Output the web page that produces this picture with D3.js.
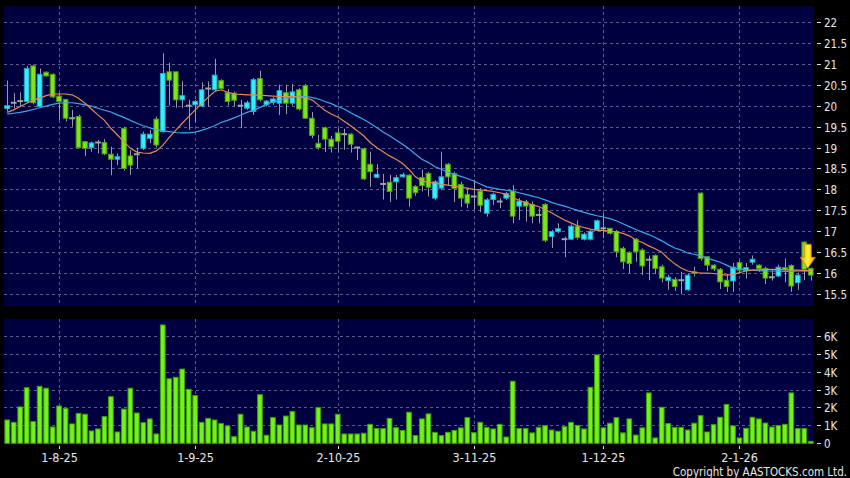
<!DOCTYPE html>
<html>
<head>
<meta charset="utf-8">
<script src="https://cdn.jsdelivr.net/npm/d3@7"></script>
<style>
  body { margin: 0; background: #000; }
  svg { display: block; }
  text { font-family: "DejaVu Sans Condensed", "DejaVu Sans", sans-serif; fill: #e6e6e6; }
</style>
</head>
<body>
<div id="chart"></div>
<script>
// daily OHLC (HKD)
var opens = [19.93, 20.07, 20.11, 20.10, 20.95, 19.98, 20.80, 20.75, 20.23, 20.15,
  19.70, 19.74, 19.14, 19.00, 19.12, 19.12, 18.84, 18.72, 19.46, 18.80,
  18.84, 18.98, 19.22, 19.68, 19.38, 20.81, 20.81, 20.14, 20.00, 20.02,
  19.99, 20.41, 20.38, 20.60, 20.31, 20.30, 20.00, 19.94, 19.86, 20.65,
  20.02, 20.08, 20.06, 20.31, 20.06, 20.38, 20.48, 19.70, 19.10, 19.47,
  19.20, 19.35, 19.32, 19.32, 19.00, 18.97, 18.60, 18.29, 18.13, 18.17,
  18.18, 18.30, 18.34, 18.07, 18.28, 18.38, 17.79, 18.03, 18.60, 18.38,
  18.12, 17.88, 17.83, 17.96, 17.43, 17.76, 17.71, 17.79, 17.96, 17.60,
  17.71, 17.64, 17.39, 17.64, 16.87, 16.99, 16.81, 16.81, 17.12, 16.81,
  16.81, 17.03, 17.07, 17.07, 16.99, 16.59, 16.49, 16.81, 16.55, 16.32,
  16.42, 16.15, 15.82, 15.85, 15.83, 15.60, 16.03, 17.91, 16.39, 16.19,
  16.09, 15.83, 15.81, 16.25, 16.06, 16.26, 16.19, 16.11, 15.90, 15.93,
  16.13, 16.18, 15.77, 16.74, 16.11];
var highs = [20.60, 20.30, 20.32, 20.95, 20.98, 20.89, 20.82, 20.77, 20.30, 20.15,
  19.90, 19.78, 19.16, 19.14, 19.18, 19.20, 19.02, 18.86, 19.50, 18.94,
  19.00, 19.38, 19.42, 19.74, 21.25, 21.03, 20.82, 20.58, 20.14, 20.14,
  20.56, 20.58, 21.12, 20.63, 20.40, 20.34, 20.14, 20.12, 20.66, 20.84,
  20.13, 20.20, 20.50, 20.50, 20.52, 20.42, 20.52, 19.85, 19.30, 19.50,
  19.28, 19.45, 19.45, 19.34, 19.02, 19.00, 18.90, 18.60, 18.37, 18.35,
  18.35, 18.40, 18.36, 18.10, 18.47, 18.42, 18.22, 18.90, 18.63, 18.42,
  18.18, 18.03, 18.23, 18.03, 17.79, 17.92, 17.79, 17.94, 18.10, 17.79,
  17.75, 17.71, 17.55, 17.67, 17.03, 17.19, 16.87, 17.16, 17.26, 16.97,
  17.03, 17.28, 17.43, 17.08, 17.03, 16.63, 16.52, 16.84, 16.59, 16.42,
  16.45, 16.20, 15.96, 15.90, 16.03, 15.98, 16.15, 17.93, 16.39, 16.21,
  16.12, 15.98, 16.24, 16.30, 16.24, 16.42, 16.21, 16.15, 16.08, 16.20,
  16.35, 16.21, 16.01, 16.76, 16.13];
var lows = [19.86, 19.94, 19.97, 20.06, 20.03, 19.94, 20.70, 20.18, 19.66, 19.62,
  19.50, 18.98, 18.80, 18.90, 18.86, 18.82, 18.34, 18.58, 18.45, 18.35,
  18.50, 18.94, 19.10, 19.00, 19.36, 20.00, 19.95, 19.94, 19.42, 19.60,
  19.96, 19.98, 20.35, 20.38, 20.00, 19.98, 19.46, 19.90, 19.78, 20.10,
  19.98, 20.02, 19.78, 19.80, 20.00, 19.88, 19.68, 19.22, 18.95, 18.89,
  18.88, 18.90, 18.95, 18.88, 18.70, 18.22, 18.06, 18.27, 17.76, 17.70,
  17.76, 18.28, 17.59, 17.85, 17.95, 17.83, 17.75, 17.98, 18.10, 17.70,
  17.58, 17.55, 17.51, 17.46, 17.35, 17.63, 17.55, 17.75, 17.19, 17.27,
  17.23, 17.19, 17.19, 16.74, 16.60, 16.95, 16.38, 16.79, 16.80, 16.78,
  16.78, 17.00, 16.83, 16.92, 16.38, 16.10, 16.00, 16.27, 15.95, 15.83,
  15.98, 15.78, 15.60, 15.58, 15.50, 15.58, 15.92, 16.30, 16.05, 16.05,
  15.62, 15.55, 15.55, 15.98, 15.87, 16.20, 16.03, 15.74, 15.82, 15.90,
  15.78, 15.55, 15.60, 15.83, 15.82];
var closes = [20.00, 20.07, 20.11, 20.89, 20.07, 20.75, 20.71, 20.21, 20.10, 19.70,
  19.70, 19.00, 18.98, 19.11, 19.12, 18.85, 18.72, 18.78, 18.50, 18.58,
  18.84, 19.32, 19.32, 19.06, 20.77, 20.61, 20.14, 20.24, 20.00, 20.10,
  20.38, 20.41, 20.73, 20.41, 20.10, 20.13, 20.00, 20.07, 20.62, 20.14,
  20.11, 20.16, 20.36, 20.06, 20.33, 19.92, 19.70, 19.29, 19.00, 19.20,
  19.02, 19.15, 19.32, 19.08, 19.00, 18.25, 18.42, 18.36, 18.13, 17.95,
  18.28, 18.35, 17.79, 17.92, 18.09, 18.05, 18.18, 18.30, 18.30, 18.02,
  17.79, 17.67, 17.83, 17.62, 17.75, 17.88, 17.71, 17.90, 17.36, 17.72,
  17.60, 17.36, 17.39, 16.78, 16.99, 17.06, 16.81, 17.12, 16.85, 16.93,
  17.00, 17.25, 17.07, 16.95, 16.51, 16.27, 16.23, 16.51, 16.17, 16.32,
  16.11, 15.88, 15.90, 15.68, 15.83, 15.95, 16.00, 16.35, 16.19, 16.10,
  15.79, 15.68, 16.14, 16.07, 16.13, 16.33, 16.11, 15.88, 15.90, 16.14,
  16.08, 15.69, 15.95, 16.09, 15.95];

// volume in thousands of shares
var volumes = [1.30, 1.17, 2.03, 3.10, 1.21, 3.18, 3.07, 0.91, 2.08, 1.95,
  1.08, 1.67, 1.62, 0.69, 0.80, 1.49, 2.60, 0.63, 1.91, 3.07,
  1.69, 1.15, 1.36, 0.52, 6.60, 3.60, 3.68, 4.14, 3.01, 2.66,
  1.17, 1.39, 1.30, 1.10, 0.97, 0.37, 1.62, 0.91, 0.67, 2.71,
  0.45, 1.43, 1.02, 1.52, 1.77, 1.02, 1.02, 0.87, 1.99, 1.08,
  1.08, 1.62, 0.52, 0.52, 0.52, 0.56, 1.06, 0.82, 0.82, 1.39,
  0.87, 0.72, 1.73, 0.43, 1.36, 1.64, 0.61, 0.43, 0.61, 0.72,
  0.86, 1.43, 0.59, 1.17, 0.89, 0.80, 1.06, 0.35, 3.46, 0.82,
  0.82, 0.58, 0.89, 0.99, 0.74, 0.67, 0.93, 1.17, 1.00, 0.80,
  3.12, 4.93, 0.86, 1.12, 1.43, 0.58, 1.36, 0.46, 0.86, 2.81,
  0.30, 2.01, 1.10, 0.89, 0.89, 0.74, 1.12, 1.54, 0.63, 1.04,
  1.45, 2.17, 0.97, 0.30, 0.84, 1.45, 1.36, 1.13, 0.91, 0.99,
  1.06, 2.81, 0.82, 0.82, 0.11];

// moving averages as drawn (short = orange, long = blue)
var maShort = [19.84, 19.90, 19.98, 20.06, 20.13, 20.18, 20.24, 20.28, 20.28, 20.28,
  20.26, 20.18, 20.06, 19.92, 19.78, 19.65, 19.46, 19.30, 19.14, 18.98,
  18.89, 18.87, 18.86, 18.92, 19.05, 19.24, 19.41, 19.58, 19.74, 19.90,
  20.05, 20.20, 20.34, 20.38, 20.32, 20.28, 20.27, 20.26, 20.26, 20.25,
  20.24, 20.23, 20.22, 20.22, 20.22, 20.21, 20.19, 20.14, 20.02, 19.89,
  19.80, 19.73, 19.63, 19.52, 19.40, 19.28, 19.12, 19.00, 18.90, 18.80,
  18.72, 18.62, 18.48, 18.30, 18.20, 18.17, 18.15, 18.12, 18.10, 18.08,
  18.05, 18.03, 18.00, 17.99, 17.97, 17.95, 17.92, 17.88, 17.80, 17.74,
  17.68, 17.63, 17.59, 17.52, 17.44, 17.35, 17.27, 17.20, 17.13, 17.09,
  17.05, 17.02, 17.02, 17.00, 16.99, 16.95, 16.89, 16.79, 16.73, 16.65,
  16.58, 16.50, 16.35, 16.22, 16.12, 16.05, 16.02, 16.00, 16.00, 15.99,
  15.97, 15.95, 15.97, 16.01, 16.05, 16.07, 16.08, 16.09, 16.09, 16.09,
  16.08, 16.07, 16.07, 16.06, 16.06];
var maLong = [19.80, 19.82, 19.84, 19.87, 19.91, 19.95, 19.99, 20.03, 20.06, 20.07,
  20.07, 20.05, 20.02, 19.99, 19.94, 19.89, 19.85, 19.78, 19.72, 19.65,
  19.58, 19.52, 19.47, 19.43, 19.40, 19.38, 19.36, 19.35, 19.35, 19.37,
  19.41, 19.46, 19.52, 19.60, 19.65, 19.71, 19.77, 19.84, 19.89, 19.96,
  20.03, 20.09, 20.12, 20.18, 20.20, 20.22, 20.22, 20.20, 20.16, 20.10,
  20.05, 19.98, 19.92, 19.83, 19.75, 19.67, 19.58, 19.48, 19.37, 19.28,
  19.18, 19.08, 18.97, 18.84, 18.72, 18.64, 18.54, 18.48, 18.41, 18.36,
  18.31, 18.26, 18.20, 18.13, 18.06, 18.03, 18.00, 17.98, 17.96, 17.92,
  17.88, 17.84, 17.80, 17.75, 17.69, 17.64, 17.60, 17.55, 17.50, 17.45,
  17.41, 17.37, 17.34, 17.30, 17.25, 17.18, 17.11, 17.04, 16.98, 16.92,
  16.85, 16.77, 16.68, 16.60, 16.55, 16.48, 16.45, 16.41, 16.36, 16.31,
  16.26, 16.19, 16.12, 16.10, 16.08, 16.07, 16.06, 16.05, 16.05, 16.05,
  16.04, 16.04, 16.05, 16.05, 16.05];

var priceTicks = [15.5, 16, 16.5, 17, 17.5, 18, 18.5, 19, 19.5, 20, 20.5, 21, 21.5, 22];
var volTicks = [0, 1, 2, 3, 4, 5, 6];
var dateTickIdx = [8, 29, 51, 72, 92, 113];
var dateTickLabels = ["1-8-25", "1-9-25", "2-10-25", "3-11-25", "1-12-25", "2-1-26"];

var width = 850, height = 478;
var left = 4, right = 814;
var pTop = 6, pBottom = 306, vTop = 319, vBottom = 444;

var svg = d3.select("#chart").append("svg")
    .attr("width", width)
    .attr("height", height);

svg.append("rect").attr("width", width).attr("height", height).attr("fill", "#000");

var n = closes.length;
var x = d3.scaleBand().domain(d3.range(n)).range([left, right]);
var xc = function(i) { return x(i) + x.bandwidth() / 2; };
var bw = x.bandwidth() * 0.88;

var y = d3.scaleLinear().domain([15.5, 22]).range([294, 22]);
var yv = d3.scaleLinear().domain([0, 6]).range([443.3, 335.7]);

// panels
svg.append("rect").attr("x", left).attr("y", pTop).attr("width", right - left).attr("height", pBottom - pTop).attr("fill", "#000040");
svg.append("rect").attr("x", left).attr("y", vTop).attr("width", right - left).attr("height", vBottom - vTop).attr("fill", "#000040");

var grid = svg.append("g")
    .attr("stroke", "#5c5c8c")
    .attr("stroke-width", 1)
    .attr("stroke-dasharray", "3,3");

grid.selectAll(".hp").data(priceTicks).enter().append("line")
    .attr("x1", left).attr("x2", right)
    .attr("y1", function(d) { return Math.round(y(d)) + 0.5; })
    .attr("y2", function(d) { return Math.round(y(d)) + 0.5; });

grid.selectAll(".hv").data(volTicks.slice(1)).enter().append("line")
    .attr("x1", left).attr("x2", right)
    .attr("y1", function(d) { return Math.round(yv(d)) + 0.5; })
    .attr("y2", function(d) { return Math.round(yv(d)) + 0.5; });

dateTickIdx.forEach(function(i) {
  var xx = Math.round(xc(i)) + 0.5;
  grid.append("line").attr("x1", xx).attr("x2", xx).attr("y1", pTop).attr("y2", pBottom);
  grid.append("line").attr("x1", xx).attr("x2", xx).attr("y1", vTop).attr("y2", vBottom);
});

// candles
var candles = svg.append("g");
d3.range(n).forEach(function(i) {
  var cx = xc(i);
  candles.append("line")
      .attr("x1", Math.round(cx) + 0.5).attr("x2", Math.round(cx) + 0.5)
      .attr("y1", y(highs[i])).attr("y2", y(lows[i]))
      .attr("stroke", "#9a9aa6").attr("stroke-width", 1);
  if (opens[i] === closes[i]) {
    candles.append("rect")
        .attr("x", cx - bw / 2).attr("y", y(closes[i]) - 1)
        .attr("width", bw).attr("height", 2)
        .attr("fill", "#9aa89a");
  } else {
    var up = closes[i] > opens[i];
    var top = y(Math.max(opens[i], closes[i]));
    var h = Math.max(1.5, y(Math.min(opens[i], closes[i])) - top);
    candles.append("rect")
        .attr("x", cx - bw / 2 + 0.5).attr("y", top)
        .attr("width", bw - 1).attr("height", h)
        .attr("fill", up ? "#33eeff" : "#7be61e")
        .attr("stroke", up ? "#2aa7c0" : "#4f9a12")
        .attr("stroke-width", 1);
  }
});

// moving averages
var line = function(vals) {
  return d3.line()
    .x(function(d, i) { return xc(i); })
    .y(function(d) { return y(d); })(vals);
};
svg.append("path").attr("d", line(maLong)).attr("fill", "none").attr("stroke", "#3fa6e6").attr("stroke-width", 1.2);
svg.append("path").attr("d", line(maShort)).attr("fill", "none").attr("stroke", "#e08a55").attr("stroke-width", 1.2);

// arrow marker on the latest session
var defs = svg.append("defs");
var grad = defs.append("linearGradient").attr("id", "arrowGrad").attr("x1", "0").attr("x2", "1").attr("y1", "0").attr("y2", "0");
grad.append("stop").attr("offset", "0%").attr("stop-color", "#f5a000");
grad.append("stop").attr("offset", "50%").attr("stop-color", "#fff23a");
grad.append("stop").attr("offset", "100%").attr("stop-color", "#f5a000");
var ax = xc(n - 2) + 3.5, ay = y(closes[n - 2]) - 1;
svg.append("path")
    .attr("d", "M" + (ax - 3.5) + "," + (ay - 24) + "H" + (ax + 3.5) + "V" + (ay - 11) +
               "H" + (ax + 7.5) + "L" + ax + "," + ay + "L" + (ax - 7.5) + "," + (ay - 11) +
               "H" + (ax - 3.5) + "Z")
    .attr("fill", "url(#arrowGrad)")
    .attr("stroke", "#c98000")
    .attr("stroke-width", 0.8);

// volume bars
svg.append("g").selectAll("rect").data(volumes).enter().append("rect")
    .attr("x", function(d, i) { return xc(i) - bw / 2 + 0.5; })
    .attr("y", function(d) { return yv(d); })
    .attr("width", bw - 1)
    .attr("height", function(d) { return yv(0) - yv(d); })
    .attr("fill", "#72f21c")
    .attr("stroke", "#3f9c05")
    .attr("stroke-width", 1);

// right axes
var ra = svg.append("g");
priceTicks.forEach(function(t) {
  var yy = Math.round(y(t)) + 0.5;
  ra.append("line").attr("x1", 817).attr("x2", 821).attr("y1", yy).attr("y2", yy).attr("stroke", "#ddd");
  ra.append("text").attr("x", 824).attr("y", yy + 4).attr("font-size", 11.5).text(t);
});
volTicks.forEach(function(t) {
  var yy = Math.round(yv(t)) + 0.5;
  ra.append("line").attr("x1", 817).attr("x2", 821).attr("y1", yy).attr("y2", yy).attr("stroke", "#ddd");
  ra.append("text").attr("x", 824).attr("y", yy + 4).attr("font-size", 11.5).text(t === 0 ? "0" : t + "K");
});

// date axis
dateTickIdx.forEach(function(i, k) {
  var xx = Math.round(xc(i)) + 0.5;
  svg.append("line").attr("x1", xx).attr("x2", xx).attr("y1", 446).attr("y2", 449).attr("stroke", "#ddd");
  svg.append("text").attr("x", xx).attr("y", 462).attr("text-anchor", "middle").attr("font-size", 12.5).text(dateTickLabels[k]);
});

svg.append("text").attr("x", 847).attr("y", 476).attr("text-anchor", "end").attr("font-size", 11.5)
    .text("Copyright by AASTOCKS.com Ltd.");
</script>
</body>
</html>
